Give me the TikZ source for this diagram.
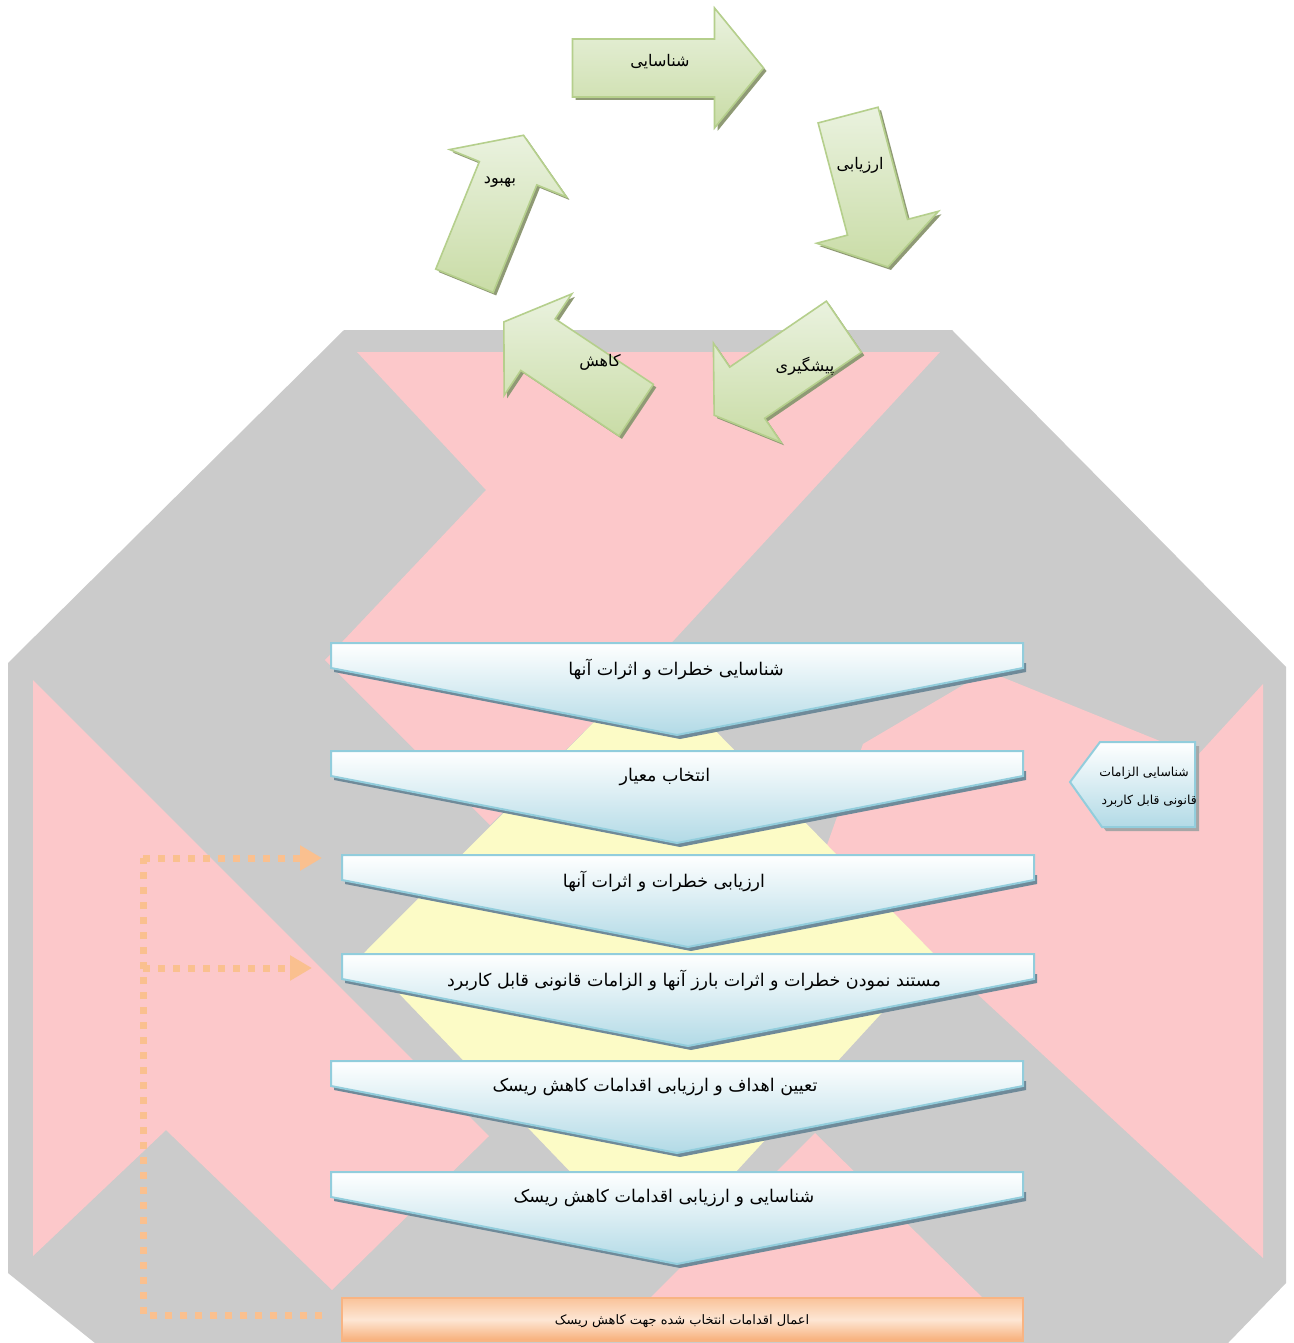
\documentclass[tikz,border=0pt]{standalone}
\usepackage{fontspec}
\newfontfamily\fa[Script=Arabic]{DejaVu Sans}
\TeXXeTstate=1
\usetikzlibrary{arrows.meta}
\definecolor{bggrey}{HTML}{CBCBCB}
\definecolor{bgpink}{HTML}{FCC8CA}
\definecolor{bgyellow}{HTML}{FCFBC6}
\definecolor{boxborder}{HTML}{92CDDC}
\definecolor{boxbottom}{HTML}{B2DAE6}
\definecolor{boxshadow}{HTML}{6F8A99}
\definecolor{greentop}{HTML}{EAF2DF}
\definecolor{greenbot}{HTML}{C9DCA6}
\definecolor{greenborder}{HTML}{B5CF8C}
\definecolor{greenshadow}{HTML}{8F9A75}
\definecolor{orangeline}{HTML}{FAC08F}
\definecolor{orangetop}{HTML}{F9C39A}
\definecolor{orangemid}{HTML}{FDE6D4}
\definecolor{orangebot}{HTML}{F7AE78}
\definecolor{orangeborder}{HTML}{F8B483}
% name, cx, cy, angle, L, bw, hw, hl
\newcommand\cyclearrow[8]{%
  \begin{scope}[shift={({#2+3},{#3+3})},rotate=#4]
    \fill[greenshadow] ({-#5/2},{-#6}) -- ({#5/2-#8},{-#6}) -- ({#5/2-#8},{-#7}) -- ({#5/2},0) -- ({#5/2-#8},{#7}) -- ({#5/2-#8},{#6}) -- ({-#5/2},{#6}) -- cycle;
  \end{scope}
  \begin{scope}[shift={(#2,#3)},rotate=#4]
    \path[draw=greenborder, line width=1.6pt, top color=greentop, bottom color=greenbot] ({-#5/2},{-#6}) -- ({#5/2-#8},{-#6}) -- ({#5/2-#8},{-#7}) -- ({#5/2},0) -- ({#5/2-#8},{#7}) -- ({#5/2-#8},{#6}) -- ({-#5/2},{#6}) -- cycle;
    \coordinate (#1) at (0,0);
  \end{scope}}
% name, left x, top y, text x, text
\newcommand\chevbox[5]{%
  \fill[boxshadow] ({#2+3},{#3+20}) -- ({#2+3},{#3+29}) -- ({#2+346+3},{#3+96}) -- ({#2+692+3},{#3+29}) -- ({#2+692+3},{#3+20}) -- cycle;
  \path[draw=boxborder, line width=2pt, top color=white, bottom color=boxbottom] (#2,#3) -- ({#2+692},#3) -- ({#2+692},{#3+25}) -- ({#2+346},{#3+92}) -- (#2,{#3+25}) -- cycle;
  \node[boxtext] (#1) at (#4,{#3+26}) {#5};}
\begin{document}
\begin{tikzpicture}[x=1pt,y=-1pt,
  cyctext/.style={font={\fa\fontsize{16}{18}\selectfont}, inner sep=0pt},
  boxtext/.style={font={\fa\fontsize{17.5}{20}\selectfont}, inner sep=0pt},
  sidetext/.style={font={\fa\fontsize{12.4}{14}\selectfont}, inner sep=0pt, anchor=east},
  smalltext/.style={font={\fa\fontsize{13}{15}\selectfont}, inner sep=0pt},
  dotconn/.style={draw=orangeline, line width=7pt, dash pattern=on 7pt off 8pt},
  dotarrow/.style={dotconn, -{Triangle[length=22pt,width=24pt]}}]
\useasboundingbox (0,0) rectangle (1293,1343);
\fill[white] (0,0) rectangle (1293,1343);
% ---------- background logo ----------
\fill[bggrey] (344,330) -- (952,330) -- (1286,667) -- (1286,1283) -- (1228,1343) -- (95,1343) -- (8,1273) -- (8,663) -- cycle;
\fill[bgpink] (357,352) -- (940,352) -- (651,665) -- (490,825) -- (325,660) -- (486,490) -- cycle;
\fill[bgpink] (987,671) -- (1197,756) -- (1263,684) -- (1263,1258) -- (935,955) -- (827,845) -- (863,744) -- cycle;
\fill[bgpink] (33,680) -- (489,1136) -- (332,1290) -- (166,1130) -- (33,1256) -- cycle;
\fill[bgpink] (815,1133) -- (990,1305) -- (643,1305) -- cycle;
\fill[bgyellow] (651,665) -- (935,955) -- (655,1260) -- (362,955) -- cycle;
% ---------- cycle ----------
\cyclearrow{a1}{668}{68}{0}{191}{29}{60}{49}
\cyclearrow{a2}{868}{191}{-75.3}{157}{31}{63}{41}
\cyclearrow{a3}{779}{371}{214.3}{157}{31}{60}{40}
\cyclearrow{a4}{570}{366}{146.3}{159}{31}{61}{41}
\cyclearrow{a5}{494}{208}{67.9}{157}{31}{63}{41}
\node[cyctext] (t1) at (660,62) {\beginR شناسایی\endR};
\node[cyctext] (t2) at (860,165) {\beginR ارزیابی\endR};
\node[cyctext] (t3) at (805,366) {\beginR پیشگیری\endR};
\node[cyctext] (t4) at (600,362) {\beginR کاهش\endR};
\node[cyctext] (t5) at (500,182) {\beginR بهبود\endR};
% ---------- flow ----------
\chevbox{b1}{331}{643}{676}{\beginR شناسایی خطرات و اثرات آنها\endR}
\chevbox{b2}{331}{751}{665}{\beginR انتخاب معیار\endR}
\chevbox{b3}{342}{855}{664}{\beginR ارزیابی خطرات و اثرات آنها\endR}
\chevbox{b4}{342}{954}{694}{\beginR مستند نمودن خطرات و اثرات بارز آنها و الزامات قانونی قابل کاربرد\endR}
\chevbox{b5}{331}{1061}{655}{\beginR تعیین اهداف و ارزیابی اقدامات کاهش ریسک\endR}
\chevbox{b6}{331}{1172}{664}{\beginR شناسایی و ارزیابی اقدامات کاهش ریسک\endR}
% side callout
\fill[gray!70] (1104,746) -- (1199,746) -- (1199,831) -- (1106,831) -- (1074,786) -- cycle;
\path[draw=boxborder, line width=2pt, top color=white, bottom color=boxbottom] (1100,742) -- (1195,742) -- (1195,827) -- (1102,827) -- (1070,782) -- cycle;
\node[sidetext] (s1) at (1189,773) {\beginR شناسایی الزامات\endR};
\node[sidetext] (s2) at (1197,801) {\beginR قانونی قابل کاربرد\endR};
% final orange box
\path[draw=orangeborder, line width=1.5pt, top color=orangetop, bottom color=orangebot, middle color=orangemid] (342,1298) rectangle (1023,1341);
\node[smalltext] (o) at (682,1321) {\beginR اعمال اقدامات انتخاب شده جهت کاهش ریسک\endR};
% ---------- dotted feedback ----------
\coordinate (oout) at (322,1315);
\coordinate (cb) at (143,1315);
\coordinate (ct) at (143,858);
\coordinate (cm) at (143,968);
\coordinate (in3) at (322,858);
\coordinate (in4) at (312,968);
\draw[dotconn] (oout) -- (cb) -- (ct);
\draw[dotarrow] (ct) -- (in3);
\draw[dotarrow] (cm) -- (in4);
\end{tikzpicture}
\end{document}
